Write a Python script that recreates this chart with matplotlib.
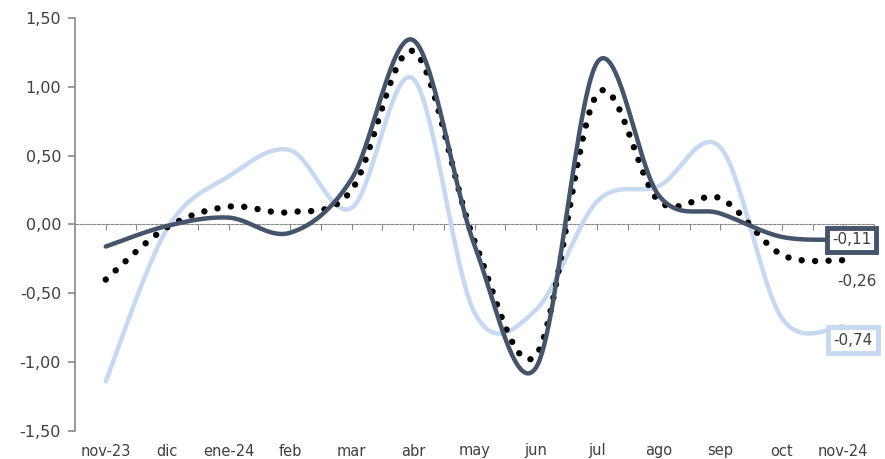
import numpy as np
import matplotlib
matplotlib.use("Agg")
import matplotlib.pyplot as plt
from matplotlib.ticker import FuncFormatter

months = ["nov-23", "dic", "ene-24", "feb", "mar", "abr", "may",
          "jun", "jul", "ago", "sep", "oct", "nov-24"]

# dark series, dotted series, light series
serie_oscura = [-0.16, -0.01, 0.05, -0.06, 0.33, 1.34, -0.15,
                -1.04, 1.18, 0.21, 0.08, -0.09, -0.11]
serie_puntos = [-0.40, -0.02, 0.13, 0.09, 0.25, 1.26, -0.12,
                -0.95, 0.95, 0.17, 0.19, -0.22, -0.26]
serie_clara = [-1.14, -0.03, 0.35, 0.54, 0.12, 1.06, -0.64,
               -0.62, 0.17, 0.28, 0.56, -0.68, -0.74]

NAVY = "#44546A"
LIGHT = "#C6D9F0"
GRAY = "#404040"
FONT = "DejaVu Sans"


def smooth(y, n=30):
    # Catmull-Rom style smoothing, like Excel's "smoothed line"
    y = np.asarray(y, float)
    x = np.arange(len(y), dtype=float)
    px = np.concatenate([[x[0]], x, [x[-1]]])
    py = np.concatenate([[y[0]], y, [y[-1]]])
    xs, ys = [], []
    t = np.linspace(0, 1, n, endpoint=False)
    bez = lambda a, b, c, d: ((1 - t) ** 3 * a + 3 * (1 - t) ** 2 * t * b
                              + 3 * (1 - t) * t ** 2 * c + t ** 3 * d)
    for i in range(1, len(px) - 2):
        p0, p1, p2, p3 = py[i - 1], py[i], py[i + 1], py[i + 2]
        q0, q1, q2, q3 = px[i - 1], px[i], px[i + 1], px[i + 2]
        xs.append(bez(q1, q1 + (q2 - q0) / 6, q2 - (q3 - q1) / 6, q2))
        ys.append(bez(p1, p1 + (p2 - p0) / 6, p2 - (p3 - p1) / 6, p2))
    xs.append([x[-1]])
    ys.append([y[-1]])
    return np.concatenate(xs), np.concatenate(ys)


fig = plt.figure(figsize=(8.85, 4.59), dpi=100)
ax = fig.add_axes([75 / 885, 1 - 431 / 459, 799 / 885, 413 / 459])

xc, yc = smooth(serie_clara)
ax.plot(xc, yc, color=LIGHT, lw=3.2, solid_capstyle="round", zorder=2)
xo, yo = smooth(serie_oscura)
ax.plot(xo, yo, color=NAVY, lw=3.2, solid_capstyle="round", zorder=4)
xp, yp = smooth(serie_puntos)
ax.plot(xp, yp, color="black", lw=4.6, linestyle=(0, (0.01, 2.1)),
        dash_capstyle="round", zorder=3)

ax.set_xlim(-0.5, 12.5)
ax.set_ylim(-1.5, 1.5)
ax.set_yticks(np.arange(-1.5, 1.51, 0.5))
ax.yaxis.set_major_formatter(FuncFormatter(lambda v, p: f"{v:.2f}".replace(".", ",")))
ax.set_xticks(range(len(months)))
ax.set_xticklabels(months)

for s in ["top", "right", "bottom"]:
    ax.spines[s].set_visible(False)
ax.spines["left"].set_color("#888888")
ax.spines["left"].set_linewidth(1.2)
ax.tick_params(axis="y", colors="#888888", length=5, width=1.2, direction="out",
               labelcolor=GRAY, labelsize=11.5, pad=5)
ax.tick_params(axis="x", length=0, labelcolor=GRAY, labelsize=10.5, pad=9)
for lab in ax.get_xticklabels() + ax.get_yticklabels():
    lab.set_fontfamily(FONT)

# zero axis (middle of the y range) with small category ticks
sec = ax.secondary_xaxis(0.5)
sec.set_xticks(np.arange(0, 12.51, 0.5))
sec.set_xticklabels([])
sec.tick_params(axis="x", which="both", direction="in", length=4, width=0.8,
                color="#888888", labelbottom=False, labeltop=False)
for s in sec.spines.values():
    s.set_color("#888888")
    s.set_linewidth(0.8)
    s.set_linestyle((0, (2.5, 1.5)))

# end labels
last = len(months) - 1
fmt = lambda v: f"{v:.2f}".replace(".", ",")
ax.annotate(fmt(serie_oscura[-1]), (last, serie_oscura[-1]), xytext=(6, 0),
            textcoords="offset points", ha="center", va="center",
            fontsize=11, color=GRAY, family=FONT, zorder=6, annotation_clip=False,
            bbox=dict(boxstyle="square,pad=0.3", fc="white", ec=NAVY, lw=3.5))
ax.annotate(fmt(serie_puntos[-1]), (last, serie_puntos[-1]), xytext=(10, -15),
            textcoords="offset points", ha="center", va="center",
            fontsize=11, color=GRAY, family=FONT, zorder=6, annotation_clip=False)
ax.annotate(fmt(serie_clara[-1]), (last, serie_clara[-1]), xytext=(7, -10),
            textcoords="offset points", ha="center", va="center",
            fontsize=11, color=GRAY, family=FONT, zorder=6, annotation_clip=False,
            bbox=dict(boxstyle="square,pad=0.35", fc="white", ec=LIGHT, lw=3.5))

fig.savefig("out.png", dpi=100)
